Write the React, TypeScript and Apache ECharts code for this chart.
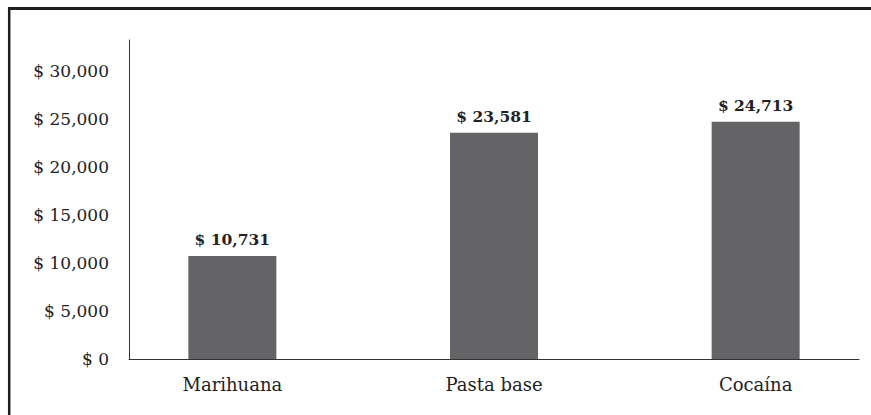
import React, { useEffect, useRef } from "react";
import * as echarts from "echarts";

const categories = ["Marihuana", "Pasta base", "Cocaína"];
const values = [10731, 23581, 24713];
const yTicks = [0, 5000, 10000, 15000, 20000, 25000, 30000];

const fmt = (v: number) => "$ " + v.toLocaleString("en-US");

export default function App() {
  const ref = useRef<HTMLDivElement>(null);
  useEffect(() => {
    if (!ref.current) return;
    const chart = echarts.init(ref.current, undefined, { renderer: "svg" });
    chart.setOption({
      animation: false,
      backgroundColor: "#ffffff",
      grid: { left: 129, right: 12, top: 40, bottom: 56, containLabel: false },
      xAxis: {
        type: "value",
        min: -0.395,
        max: 2.395,
        splitLine: { show: false },
        axisTick: { show: false },
        axisLine: { show: true, onZero: false, lineStyle: { color: "#333333", width: 1 } },
        axisLabel: {
          customValues: categories.map((_, i) => i),
          formatter: (v: number) => categories[Math.round(v)] ?? "",
          fontFamily: "DejaVu Serif",
          fontSize: 18,
          color: "#222222",
          margin: 16,
        },
      },
      yAxis: {
        type: "value",
        min: 0,
        max: 33230,
        interval: 5000,
        splitLine: { show: false },
        axisTick: { show: false },
        axisLine: { show: true, onZero: false, lineStyle: { color: "#333333", width: 1 } },
        axisLabel: {
          formatter: (v: number) => (yTicks.includes(v) ? fmt(v) : ""),
          fontFamily: "DejaVu Serif",
          fontSize: 17,
          color: "#222222",
          margin: 20,
          padding: [0, 0, 6, 0],
        },
      },
      series: [
        {
          type: "bar",
          barWidth: 88,
          data: values.map((v, i) => [i, v]),
          itemStyle: { color: "#646466" },
          label: {
            show: true,
            position: "top",
            distance: 8,
            formatter: (p: any) => fmt(p.value[1]),
            fontFamily: "DejaVu Serif",
            fontWeight: "bold",
            fontSize: 15.5,
            color: "#222222",
          },
        },
      ],
      graphic: [
        {
          type: "line",
          shape: { x1: 8, y1: 8.5, x2: 871, y2: 8.5 },
          style: { stroke: "#1e1e1e", lineWidth: 3 },
        },
        {
          type: "line",
          shape: { x1: 9.2, y1: 7, x2: 9.2, y2: 415 },
          style: { stroke: "#1e1e1e", lineWidth: 2.5 },
        },
      ],
    });
    return () => chart.dispose();
  }, []);
  return (
    <div
      ref={ref}
      style={{ position: "fixed", left: 0, top: 0, width: 871, height: 415 }}
    />
  );
}
